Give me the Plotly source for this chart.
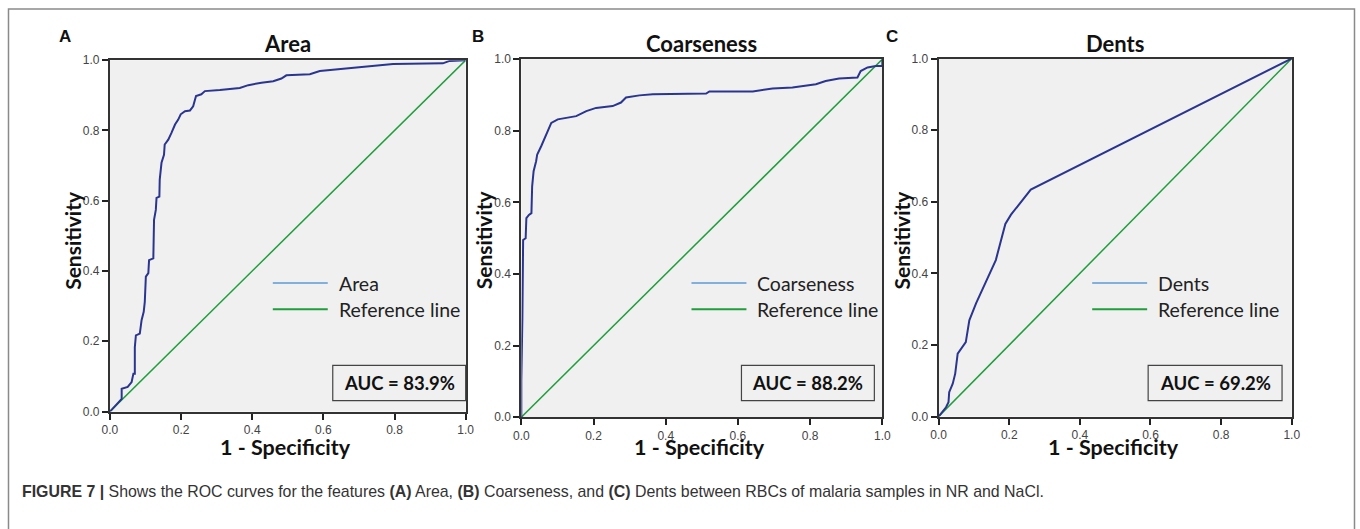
import plotly.graph_objects as go

W, H = 1360, 529
# The rendered page carries an 8px body margin and is scaled to the window; map
# reference screen pixels to paper fractions accordingly.
OFF = 8
EFF_W, EFF_H = 1344, 513

# ---------------- data ----------------
area_fpr = [0.0, 0.033, 0.033, 0.05, 0.061, 0.066, 0.070, 0.070, 0.073, 0.084, 0.089, 0.095, 0.098,
            0.101, 0.108, 0.110, 0.122, 0.124, 0.129, 0.131, 0.139, 0.140, 0.145, 0.152, 0.154,
            0.164, 0.173, 0.183, 0.192, 0.199, 0.211, 0.225, 0.234, 0.242, 0.257, 0.267, 0.309,
            0.346, 0.365, 0.389, 0.426, 0.459, 0.482, 0.496, 0.562, 0.590, 0.665, 0.721, 0.796,
            0.936, 0.955, 1.0]
area_tpr = [0.0, 0.036, 0.065, 0.070, 0.084, 0.108, 0.108, 0.183, 0.217, 0.222, 0.260, 0.284, 0.312,
            0.384, 0.394, 0.431, 0.436, 0.546, 0.574, 0.608, 0.612, 0.660, 0.708, 0.731, 0.760,
            0.774, 0.793, 0.817, 0.831, 0.846, 0.855, 0.857, 0.869, 0.898, 0.903, 0.912, 0.915,
            0.918, 0.921, 0.929, 0.936, 0.940, 0.948, 0.957, 0.960, 0.969, 0.976, 0.980, 0.989,
            0.991, 0.998, 1.0]

coarse_fpr = [0.0, 0.0, 0.003, 0.005, 0.012, 0.014, 0.021, 0.028, 0.030, 0.034, 0.041, 0.044, 0.055,
              0.065, 0.071, 0.076, 0.083, 0.101, 0.129, 0.152, 0.180, 0.207, 0.253, 0.276, 0.290,
              0.327, 0.364, 0.512, 0.521, 0.641, 0.696, 0.751, 0.816, 0.843, 0.880, 0.931, 0.940,
              0.959, 0.982, 1.0, 1.0]
coarse_tpr = [0.0, 0.103, 0.280, 0.495, 0.500, 0.556, 0.565, 0.570, 0.645, 0.687, 0.715, 0.734, 0.757,
              0.780, 0.794, 0.808, 0.822, 0.832, 0.836, 0.841, 0.855, 0.864, 0.869, 0.879, 0.893,
              0.899, 0.902, 0.904, 0.910, 0.910, 0.918, 0.921, 0.930, 0.939, 0.946, 0.949, 0.967,
              0.977, 0.981, 0.981, 1.0]

dents_fpr = [0.0, 0.021, 0.028, 0.030, 0.040, 0.047, 0.054, 0.068, 0.077, 0.087, 0.106, 0.162,
             0.189, 0.205, 0.261, 1.0]
dents_tpr = [0.0, 0.026, 0.040, 0.068, 0.092, 0.120, 0.176, 0.194, 0.208, 0.269, 0.316, 0.437,
             0.538, 0.564, 0.634, 1.0]

ref_line = [0.0, 1.0]

titles = ["Area", "Coarseness", "Dents"]
panel_letters = ["A", "B", "C"]
auc_labels = ["AUC = 83.9%", "AUC = 88.2%", "AUC = 69.2%"]
tick_vals = [0.0, 0.2, 0.4, 0.6, 0.8, 1.0]
tick_text = ["0.0", "0.2", "0.4", "0.6", "0.8", "1.0"]
caption_bold = "FIGURE 7 |"
caption_rest = (" Shows the ROC curves for the features <b>(A)</b> Area, <b>(B)</b> Coarseness, "
                "and <b>(C)</b> Dents between RBCs of malaria samples in NR and NaCl.")

# ---------------- layout geometry (screen pixels) ----------------
panels = [
    dict(x0=110, x1=466, y0=61, y1=411),
    dict(x0=521.7, x1=883, y0=60, y1=416.7),
    dict(x0=939.3, x1=1292.7, y0=59.3, y1=416),
]

def px(x):
    return (x - OFF) / EFF_W

def py(y):
    return 1 - (y - OFF) / EFF_H

curve_color = "#2a3590"
ref_color = "#1f9e3c"
legend_curve_color = "#5b9bd5"
label_font = "Lato, 'Open Sans', sans-serif"

fig = go.Figure()
series = [(area_fpr, area_tpr), (coarse_fpr, coarse_tpr), (dents_fpr, dents_tpr)]

shapes = []
annotations = []

for i, (p, (fx, fy)) in enumerate(zip(panels, series)):
    n = "" if i == 0 else str(i + 1)
    xa, ya = "x" + n, "y" + n
    fig.add_trace(go.Scatter(x=ref_line, y=ref_line, mode="lines", xaxis=xa, yaxis=ya,
                             line=dict(color=ref_color, width=1.5), showlegend=False,
                             hoverinfo="skip"))
    fig.add_trace(go.Scatter(x=fx, y=fy, mode="lines", xaxis=xa, yaxis=ya,
                             line=dict(color=curve_color, width=2), showlegend=False))
    axis_common = dict(range=[0, 1], tickvals=tick_vals, ticktext=tick_text, ticks="outside",
                       ticklen=6, tickwidth=1.5, tickcolor="#222", showline=True, linewidth=2,
                       linecolor="#333", mirror=True, showgrid=False, zeroline=False,
                       tickfont=dict(family="Arial, 'Liberation Sans', sans-serif", size=12,
                                     color="#444"), fixedrange=True)
    fig.update_layout(**{
        "xaxis" + n: dict(domain=[px(p["x0"]), px(p["x1"])], anchor=ya, **axis_common),
        "yaxis" + n: dict(domain=[py(p["y1"]), py(p["y0"])], anchor=xa, **axis_common),
    })
    cx = (p["x0"] + p["x1"]) / 2
    # title
    annotations.append(dict(x=px(cx), y=py(44), xref="paper", yref="paper", text="<b>%s</b>" % titles[i],
                            showarrow=False, font=dict(family=label_font, size=22, color="#111"),
                            xanchor="center", yanchor="middle"))
    # x title
    annotations.append(dict(x=px(cx - 2), y=py(446), xref="paper", yref="paper",
                            text="<b>1 - Specificity</b>", showarrow=False,
                            font=dict(family=label_font, size=21.5, color="#111"),
                            xanchor="center", yanchor="middle"))
    # y title
    annotations.append(dict(x=px(p["x0"] - 37), y=py(240), xref="paper", yref="paper",
                            text="<b>Sensitivity</b>", showarrow=False, textangle=-90,
                            font=dict(family=label_font, size=21, color="#111"),
                            xanchor="center", yanchor="middle"))
    # panel letter
    letter_x = [65, 478, 893][i]
    annotations.append(dict(x=px(letter_x), y=py(37), xref="paper", yref="paper",
                            text="<b>%s</b>" % panel_letters[i], showarrow=False,
                            font=dict(family="Arial, 'Liberation Sans', sans-serif", size=17,
                                      color="#111"), xanchor="center", yanchor="middle"))
    # legend
    lx0 = [273, 692, 1093][i]
    for k, (lbl, col, yy) in enumerate([(titles[i], legend_curve_color, 283),
                                        ("Reference line", ref_color, 309)]):
        shapes.append(dict(type="line", xref="paper", yref="paper", x0=px(lx0), x1=px(lx0 + 55),
                           y0=py(yy), y1=py(yy), line=dict(color=col, width=1.5 if k == 0 else 2)))
        annotations.append(dict(x=px(lx0 + 64), y=py(yy), xref="paper", yref="paper", text=lbl,
                                showarrow=False, font=dict(family=label_font, size=19.5, color="#222"),
                                xanchor="left", yanchor="middle"))
    # AUC box
    bx0 = [333, 742, 1149][i]
    bx1 = [466, 875, 1283][i]
    shapes.append(dict(type="rect", xref="paper", yref="paper", x0=px(bx0), x1=px(bx1),
                       y0=py(400), y1=py(365), line=dict(color="#444", width=1.2)))
    annotations.append(dict(x=px((bx0 + bx1) / 2), y=py(383), xref="paper", yref="paper",
                            text="<b>%s</b>" % auc_labels[i], showarrow=False,
                            font=dict(family=label_font, size=18.5, color="#111"),
                            xanchor="center", yanchor="middle"))

# outer frame
shapes.append(dict(type="rect", xref="paper", yref="paper", x0=px(8.5), x1=px(1355.5), y0=py(540),
                   y1=py(10), line=dict(color="#8a8a8a", width=1.5), layer="below"))

# caption
annotations.append(dict(x=px(20), y=py(491), xref="paper", yref="paper",
                        text="<b>%s</b>%s" % (caption_bold, caption_rest), showarrow=False,
                        font=dict(family="'Liberation Sans Narrow', 'Arial Narrow', sans-serif",
                                  size=15.9, color="#333"), xanchor="left", yanchor="middle"))

fig.update_layout(width=W, height=H, margin=dict(l=0, r=0, t=0, b=0),
                  paper_bgcolor="white", plot_bgcolor="#f0f0f0",
                  shapes=shapes, annotations=annotations, showlegend=False)

fig.write_html("out.html", config={"displayModeBar": False})
